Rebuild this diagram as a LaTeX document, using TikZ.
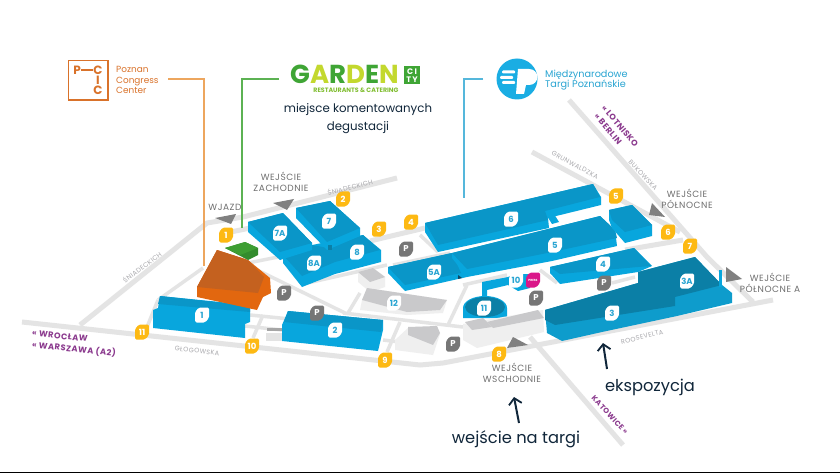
\documentclass[tikz,border=0pt]{standalone}
\usepackage{fontspec}
\setmainfont{Poppins}
\newfontfamily\labfont[LetterSpace=6]{Poppins}
\usetikzlibrary{arrows.meta,calc}
\definecolor{roadc}{HTML}{E4E4E4}
\definecolor{htop}{HTML}{0A96C8}
\definecolor{hside}{HTML}{08A6DD}
\definecolor{dtop}{HTML}{0B7FA6}
\definecolor{dside}{HTML}{0E9CCC}
\definecolor{gtop}{HTML}{C9C9CB}
\definecolor{gside}{HTML}{EFEFEF}
\definecolor{otop}{HTML}{C4611F}
\definecolor{oside}{HTML}{E2670F}
\definecolor{grtop}{HTML}{3E9E33}
\definecolor{grside}{HTML}{338C2D}
\definecolor{yel}{HTML}{FDB913}
\definecolor{pgrey}{HTML}{767676}
\definecolor{trig}{HTML}{808080}
\definecolor{labc}{HTML}{6F6F6F}
\definecolor{strc}{HTML}{A9A9AD}
\definecolor{purp}{HTML}{8B3A8E}
\definecolor{navy}{HTML}{10263A}
\definecolor{pcc}{HTML}{D9722A}
\definecolor{bluet}{HTML}{2AA5D2}
\definecolor{lime}{HTML}{C3D82E}
\definecolor{gard}{HTML}{3FA535}
\tikzset{
 road/.style={line width=5pt,color=roadc},
 thinroad/.style={line width=3.5pt,color=roadc},
 htopS/.style={fill=htop},hsideS/.style={fill=hside},
 dtopS/.style={fill=dtop},dsideS/.style={fill=dside},
 gtopS/.style={fill=gtop},gsideS/.style={fill=gside},
 yelbadge/.style={fill=yel,rounded corners=1.5pt},
 hallbadge/.style={fill=white,rounded corners=1.5pt},
 parkbadge/.style={fill=pgrey,rounded corners=1.5pt},
 pressbadge/.style={fill=magenta!90!black,rounded corners=1.5pt},
 ytxt/.style={text=white,font=\fontsize{8.5}{9}\selectfont\bfseries,inner sep=0pt},
 htxt/.style={text=bluet,font=\fontsize{8.5}{9}\selectfont\bfseries,inner sep=0pt},
 lab/.style={text=labc,font=\fontsize{9}{10}\selectfont\labfont,inner sep=0pt,anchor=base},
 street/.style={text=strc,font=\fontsize{6.5}{7}\selectfont\labfont,inner sep=0pt},
 city/.style={text=purp,font=\fontsize{8.3}{9}\selectfont\bfseries\labfont,inner sep=0pt},
 big/.style={text=navy,font=\fontsize{11.8}{13}\selectfont,inner sep=0pt,anchor=base},
 bigger/.style={text=navy,font=\fontsize{16.3}{17}\selectfont,inner sep=0pt,anchor=base},
 gate/.style={fill=trig},
 conn/.style={line width=1.1pt},
 bigarrow/.style={navy,line width=2pt,-{Straight Barb[length=6pt,width=13pt,line width=1.8pt]}},
}
\newcommand{\bdg}[6]{\begin{scope}[shift={(#2,#3)}]
 \path[#4] (-3,-7.5)--(7,-7.5)--(7,3)--(3,7.5)--(-7,7.5)--(-7,-3)--cycle;
 \node[#5] (#1) at (0,0) {#6};
\end{scope}}
\begin{document}
\begin{tikzpicture}[x=1pt,y=-1pt]
\useasboundingbox (0,0) rectangle (840,473);
\fill[white] (0,0) rectangle (840,473);
\fill[black] (0,471.5) rectangle (840,473);

% ---- roads
\draw[road] (22,322)--(420,365)--(443,363)--(773,300);
\draw[road] (80,325)--(207,223)--(243,217)--(397,178);
\draw[road] (226,233)--(250,228);
\draw[road] (569,100)--(707,257)--(753,302);
\draw[road] (532,152)--(680,232);
\draw[road] (530,337)--(623,445);
\draw[road] (625,250)--(683,240);
\draw[road] (370,241)--(425,228);
\draw[thinroad] (420,235)--(438,252);
\draw[thinroad] (393,265)--(450,253);
\draw[thinroad] (303,284)--(387,265);
\draw[thinroad] (247,265)--(345,313);
\draw[thinroad] (250,315)--(290,319);
\draw[thinroad] (343,313)--(463,327);
\draw[thinroad] (263,315)--(253,338);
\draw[thinroad] (360,293)--(348,313);
\draw[thinroad] (400,322)--(387,352);
\draw[thinroad] (467,285)--(448,325);
\draw[thinroad] (463,285)--(507,275);
\draw[thinroad] (540,270)--(557,283);
\draw[thinroad] (158,300)--(147,327);
\draw[thinroad] (203,268)--(158,300);
\draw[thinroad] (248,263)--(283,256);
\draw[thinroad] (245,326)--(282,330);
\draw[thinroad] (383,340)--(400,342);
\draw[thinroad] (612,283)--(635,277);
\fill[roadc] (266,333) rectangle (282,341);
\fill[gray!70] (267,328) rectangle (282,331);

% ---- rotunda 11 and annex 10
\path[hsideS] (482,282)--(508,277)--(516,274)--(531,274)--(530,288)--(518,291)--(508,285)--(487,290)--(487,300)--(482,300)--cycle;
\path[hsideS] (463,308) arc[start angle=180,end angle=360,x radius=22,y radius=12]--(507,318)--(463,318)--cycle;
\path[dtopS] (485,307) ellipse[x radius=20,y radius=10];

% ---- grey buildings
\path[gsideS] (358,272)--(373,268)--(385,277)--(385,287)--(370,292)--(358,282)--cycle;
\path[gtopS] (358,272)--(373,268)--(385,277)--(370,282)--cycle;
\path[gsideS] (362,300)--(367,288)--(447,300)--(443,313)--(407,315)--(360,310)--cycle;
\path[gtopS] (367,288)--(447,300)--(440,310)--(407,312)--(362,300)--cycle;
\path[gsideS] (408,328)--(437,327)--(440,334)--(433,355)--(395,350)--(395,340)--cycle;
\path[gtopS] (408,327)--(437,326)--(440,333)--(433,345)--(408,335)--cycle;
\path[gsideS] (463,324)--(543,310)--(544,332)--(477,348)--(463,340)--cycle;
\path[gtopS] (465,322)--(483,318)--(492,327)--(472,330)--cycle;
\path[gtopS] (487,322)--(538,310)--(544,318)--(493,328)--cycle;

% ---- hall 8 / 8A
\path[hsideS] (283,255)--(312,245)--(363,235)--(381,250)--(381,262)--(335,274)--(302,287)--(283,263)--cycle;
\path[htopS] (283,255)--(312,245)--(328,248)--(363,235)--(380,250)--(335,262)--(302,276)--cycle;
% ---- hall 7A
\path[hsideS] (248,222)--(283,213)--(312,243)--(312,250)--(280,260)--(248,232)--cycle;
\path[htopS] (248,222)--(283,213)--(312,243)--(280,252)--cycle;
% ---- hall 7
\path[hsideS] (296,208)--(330,201)--(360,228)--(360,236)--(327,250)--(296,218)--cycle;
\path[htopS] (296,208)--(330,201)--(360,228)--(327,242)--cycle;
\fill[dtop] (328,245) rectangle (332,250);
% ---- hall 5A
\path[hsideS] (388,267)--(452,253)--(467,270)--(467,277)--(405,291)--(388,273)--cycle;
\path[htopS] (388,267)--(452,253)--(461,273)--(405,285)--cycle;
\fill[navy!70!htop] (458,275)--(462,278)--(458,279)--cycle;
% ---- hall 6
\path[hsideS] (425,223)--(593,184)--(601,197)--(601,205)--(548,218)--(549,228)--(438,252)--(425,232)--cycle;
\path[htopS] (425,223)--(593,184)--(600,197)--(545,211)--(548,220)--(438,245)--cycle;
% ---- hall 5
\path[hsideS] (452,253)--(600,216)--(615,230)--(617,246)--(552,261)--(467,277)--(452,258)--cycle;
\path[htopS] (452,253)--(600,216)--(615,230)--(617,238)--(552,252)--(467,269)--cycle;
\path[hsideS] (547,216)--(554,214)--(559,222)--(552,224)--cycle;
% ---- NE block
\path[hsideS] (609,210)--(632,205)--(652,225)--(652,236)--(625,243)--(612,228)--(609,220)--cycle;
\path[htopS] (609,210)--(632,205)--(652,225)--(625,232)--(612,220)--cycle;
% ---- hall 4
\path[hsideS] (550,267)--(634,248)--(652,266)--(638,272)--(560,284)--(550,273)--cycle;
\path[htopS] (550,267)--(634,248)--(651,266)--(638,267)--(560,274)--cycle;
% ---- hall 3 / 3A
\path[dsideS] (545,310)--(638,283)--(638,272)--(695,257)--(722,285)--(732,293)--(732,303)--(677,316)--(602,332)--(562,341)--(547,333)--cycle;
\path[dtopS] (545,310)--(638,283)--(638,272)--(695,257)--(722,285)--(675,297)--(675,306)--(555,325)--(545,320)--cycle;
\fill[hside] (719,270) rectangle (722,287);
% ---- hall 1
\path[hsideS] (153,310)--(158,308)--(160,296)--(250,305)--(250,322)--(245,324)--(245,338)--(153,328)--cycle;
\path[htopS] (160,296)--(243,305)--(250,305)--(250,312)--(158,304)--cycle;
% ---- hall 2
\path[hsideS] (288,311)--(383,320)--(383,330)--(378,351)--(282,341)--(282,325)--cycle;
\path[htopS] (288,311)--(383,320)--(381,332)--(284,322)--cycle;
% ---- orange and green
\path[fill=oside] (217,250)--(248,260)--(270,278)--(271,293)--(263,297)--(257,310)--(197,297)--(197,287)--cycle;
\path[fill=otop] (217,250)--(248,260)--(264,277)--(258,293)--(197,287)--cycle;
\path[fill=grside] (225,248)--(245,242)--(258,248)--(258,255)--(248,260)--cycle;
\path[fill=grtop] (225,248)--(245,242)--(258,248)--(240,255)--cycle;

% ---- gate triangles
\path[gate] (215,218)--(236,214)--(231,224)--cycle;
\path[gate] (273,203)--(294,199)--(287,210)--cycle;
\path[gate] (652,203)--(665,217)--(649,215)--cycle;
\path[gate] (726,267)--(742,279)--(726,282)--cycle;
\path[gate] (513,337)--(528,345)--(507,348)--cycle;

% ---- yellow badges
\bdg{y1}{226}{235}{yelbadge}{ytxt}{1}
\bdg{y2}{343}{199}{yelbadge}{ytxt}{2}
\bdg{y3}{379}{229}{yelbadge}{ytxt}{3}
\bdg{y4}{411}{222}{yelbadge}{ytxt}{4}
\bdg{y5}{616}{196}{yelbadge}{ytxt}{5}
\bdg{y6}{668}{232}{yelbadge}{ytxt}{6}
\bdg{y7}{690}{246}{yelbadge}{ytxt}{7}
\bdg{y8}{499}{354}{yelbadge}{ytxt}{8}
\bdg{y9}{385}{360}{yelbadge}{ytxt}{9}
\bdg{y10}{252}{346}{yelbadge}{ytxt}{10}
\bdg{y11}{142}{332}{yelbadge}{ytxt}{11}
% ---- hall badges
\bdg{h7A}{280}{233}{hallbadge}{htxt}{7A}
\bdg{h7}{329}{221}{hallbadge}{htxt}{7}
\bdg{h8A}{314}{263}{hallbadge}{htxt}{8A}
\bdg{h8}{357}{252}{hallbadge}{htxt}{8}
\bdg{h5A}{434}{272}{hallbadge}{htxt}{5A}
\bdg{h6}{511}{219}{hallbadge}{htxt}{6}
\bdg{h5}{555}{245}{hallbadge}{htxt}{5}
\bdg{h4}{603}{264}{hallbadge}{htxt}{4}
\bdg{h10}{516}{280}{hallbadge}{htxt}{10}
\bdg{h11}{484}{308}{hallbadge}{htxt}{11}
\bdg{h12}{394}{303}{hallbadge}{htxt}{12}
\bdg{h1}{202}{315}{hallbadge}{htxt}{1}
\bdg{h2}{335}{330}{hallbadge}{htxt}{2}
\bdg{h3}{612}{313}{hallbadge}{htxt}{3}
\bdg{h3A}{687}{281}{hallbadge}{htxt}{3A}
% ---- parking
\bdg{p1}{406}{249}{parkbadge}{ytxt}{P}
\bdg{p2}{284}{293}{parkbadge}{ytxt}{P}
\bdg{p3}{317}{313}{parkbadge}{ytxt}{P}
\bdg{p4}{453}{344}{parkbadge}{ytxt}{P}
\bdg{p5}{536}{298}{parkbadge}{ytxt}{P}
\bdg{p6}{604}{283}{parkbadge}{ytxt}{P}
\bdg{press}{533}{280}{pressbadge}{text=white,font=\fontsize{3}{3}\selectfont\bfseries,inner sep=0pt}{PRESS}

% ---- gate labels
\node[lab] (lwj) at (225,211) {WJAZD};
\node[lab] (lz1) at (281,181) {WEJŚCIE};
\node[lab] (lz2) at (281,192) {ZACHODNIE};
\node[lab] (ln1) at (687,197) {WEJŚCIE};
\node[lab] (ln2) at (687,208) {PÓŁNOCNE};
\node[lab] (la1) at (770,281) {WEJŚCIE};
\node[lab] (la2) at (770,292) {PÓŁNOCNE A};
\node[lab] (lw1) at (512,371) {WEJŚCIE};
\node[lab] (lw2) at (512,382) {WSCHODNIE};

% ---- street labels
\node[street,rotate=15] (s1) at (350,187) {ŚNIADECKICH};
\node[street,rotate=37] (s2) at (142,267) {ŚNIADECKICH};
\node[street,rotate=-6] (s3) at (197,351) {GŁOGOWSKA};
\node[street,rotate=-28] (s4) at (575,165) {GRUNWALDZKA};
\node[street,rotate=-47] (s5) at (643,175) {BUKOWSKA};
\node[street,rotate=14] (s6) at (642,337) {ROOSEVELTA};

% ---- city labels
\node[city,rotate=-6] (c1) at (60,336) {« WROCŁAW};
\node[city,rotate=-6] (c2) at (74,349) {« WARSZAWA (A2)};
\node[city,rotate=-50] (c3) at (620,126) {« LOTNISKO};
\node[city,rotate=-50] (c4) at (608,129) {« BERLIN};
\node[city,rotate=-47,font=\fontsize{7.4}{8}\selectfont\bfseries\labfont] (c5) at (610,415) {KATOWICE »};

% ---- big captions and arrows
\node[big] (t1) at (358,113) {miejsce komentowanych};
\node[big] (t2) at (358,131) {degustacji};
\node[bigger] (t3) at (650,391) {ekspozycja};
\node[bigger] (t4) at (516,443) {wejście na targi};
\coordinate (a1s) at (607,369); \coordinate (a1e) at (603,343);
\coordinate (a2s) at (519,423); \coordinate (a2e) at (514,397);
\draw[bigarrow] (a1s)--(a1e);
\draw[bigarrow] (a2s)--(a2e);

% ---- PCC logo
\draw[pcc,line width=1.8pt] (68.5,60.5) rectangle (108,100);
\node[text=pcc,font=\fontsize{12}{12}\selectfont\bfseries,inner sep=0pt] (pP) at (77,70) {P};
\node[text=pcc,font=\fontsize{12}{12}\selectfont\bfseries,inner sep=0pt] (pC) at (98,70) {C};
\node[text=pcc,font=\fontsize{12}{12}\selectfont\bfseries,inner sep=0pt] (pI) at (98,80) {I};
\node[text=pcc,font=\fontsize{12}{12}\selectfont\bfseries,inner sep=0pt] (pD) at (98,90) {C};
\draw[pcc,line width=1.6pt] (pP.east)--(pC.west);
\node[text=pcc,font=\fontsize{8.9}{10.4}\selectfont,inner sep=0pt,anchor=base west] (pa) at (116,73) {Poznan};
\node[text=pcc,font=\fontsize{8.9}{10.4}\selectfont,inner sep=0pt,anchor=base west] (pb) at (116,83.5) {Congress};
\node[text=pcc,font=\fontsize{8.9}{10.4}\selectfont,inner sep=0pt,anchor=base west] (pc) at (116,94) {Center};

% ---- connectors
\coordinate (cOs) at (168,79); \coordinate (cOe) at (204,266);
\coordinate (cGs) at (279,79); \coordinate (cGe) at (242,228);
\coordinate (cBs) at (483,79); \coordinate (cBe) at (464,198);
\draw[conn,color=orange!60!brown!70!white] (cOs) -| (cOe);
\draw[conn,color=gard!85!white] (cGs) -| (cGe);
\draw[conn,color=bluet!80!white] (cBs) -| (cBe);

% ---- Garden logo
\node[inner sep=0pt,anchor=base west,font=\fontsize{26}{26}\selectfont\bfseries] (gl) at (290,84)
 {\textcolor{gard}{G}\textcolor{lime}{A}\textcolor{gard}{R}\textcolor{lime}{D}\textcolor{gard}{E}\textcolor{lime}{N}};
\node[fill=gard,minimum width=16pt,minimum height=18pt,inner sep=0pt,text=white,align=center,font=\fontsize{8}{8.5}\selectfont\bfseries] (gc) at (412,75.5) {C\,I\\T\,Y};
\node[text=lime!50!gard,inner sep=0pt,font=\fontsize{6.3}{7}\selectfont\bfseries] (gr) at (356,90.5) {RESTAURANTS \& CATERING};

% ---- MTP logo
\path[fill=bluet!70!cyan!90!blue] (517,79) circle[radius=20.5];
\fill[white,rounded corners=1pt] (502,70.5) rectangle (515,73.5);
\fill[white,rounded corners=1pt] (500,76) rectangle (513,79);
\fill[white,rounded corners=1pt] (502,81) rectangle (515,84);
\fill[white] (518,69)--(529,69) .. controls (540,69) and (540,85) .. (529,85)--(526,85)--(524,94)--(516,94)--cycle;
\node[text=bluet,inner sep=0pt,anchor=base west,font=\fontsize{9.7}{10}\selectfont] (m1) at (545,78) {Międzynarodowe};
\node[text=bluet,inner sep=0pt,anchor=base west,font=\fontsize{9.7}{10}\selectfont] (m2) at (545,88) {Targi Poznańskie};
\end{tikzpicture}
\end{document}
